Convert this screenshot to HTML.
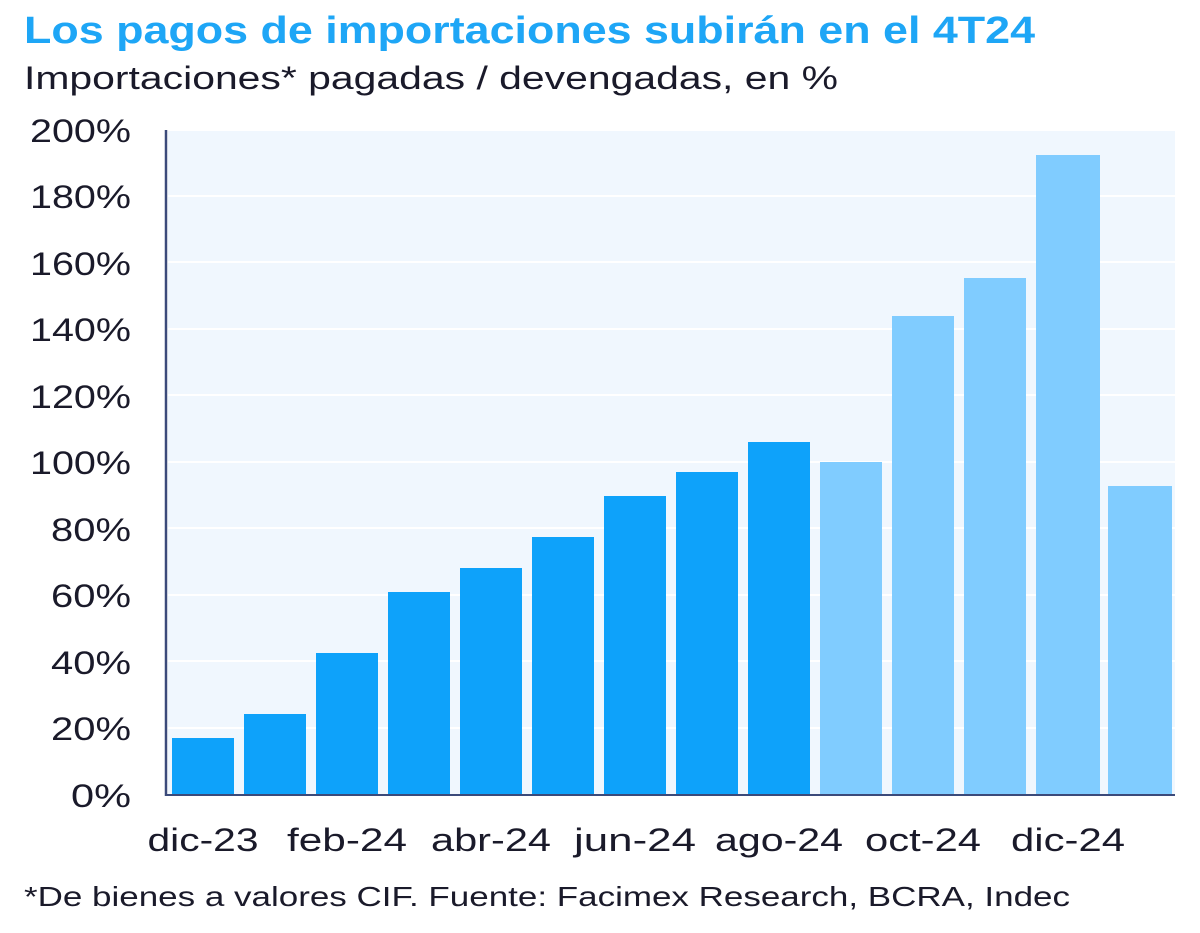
<!DOCTYPE html>
<html><head><meta charset="utf-8"><style>
body{margin:0;background:#fff;width:1200px;height:928px;overflow:hidden;font-family:"Liberation Sans",sans-serif}
</style></head><body>
<svg width="1200" height="928" xmlns="http://www.w3.org/2000/svg" font-family="Liberation Sans, sans-serif">
<text x="24" y="43" font-size="38" font-weight="bold" fill="#1ea6f6" textLength="1011" lengthAdjust="spacingAndGlyphs">Los pagos de importaciones subirán en el 4T24</text>
<text x="24" y="89" font-size="32" fill="#1a1a2a" textLength="814" lengthAdjust="spacingAndGlyphs">Importaciones* pagadas / devengadas, en %</text>
<rect x="168" y="131" width="1007" height="664" fill="#f0f7fe"/>
<g stroke="#fff" stroke-width="2">
<line x1="168" y1="196" x2="1175" y2="196"/><line x1="168" y1="262" x2="1175" y2="262"/><line x1="168" y1="329" x2="1175" y2="329"/><line x1="168" y1="395" x2="1175" y2="395"/><line x1="168" y1="462" x2="1175" y2="462"/><line x1="168" y1="528" x2="1175" y2="528"/><line x1="168" y1="595" x2="1175" y2="595"/><line x1="168" y1="661" x2="1175" y2="661"/><line x1="168" y1="728" x2="1175" y2="728"/>
</g>
<g fill="#0ea2fa">
<rect x="172" y="738" width="62" height="57"/><rect x="244" y="714" width="62" height="81"/><rect x="316" y="653" width="62" height="142"/><rect x="388" y="592" width="62" height="203"/><rect x="460" y="568" width="62" height="227"/><rect x="532" y="537" width="62" height="258"/><rect x="604" y="496" width="62" height="299"/><rect x="676" y="472" width="62" height="323"/><rect x="748" y="442" width="62" height="353"/>
</g>
<g fill="#80ccff">
<rect x="820" y="462" width="62" height="333"/><rect x="892" y="316" width="62" height="479"/><rect x="964" y="278" width="62" height="517"/><rect x="1036" y="155" width="64" height="640"/><rect x="1108" y="486" width="64" height="309"/>
</g>
<line x1="166" y1="130" x2="166" y2="796" stroke="#3b4a7a" stroke-width="2.5"/>
<line x1="166" y1="795" x2="1175" y2="795" stroke="#3b4a7a" stroke-width="2"/>
<g font-size="32" fill="#1a1a2a" text-anchor="end">
<text x="131" y="142" textLength="101" lengthAdjust="spacingAndGlyphs">200%</text><text x="131" y="208" textLength="101" lengthAdjust="spacingAndGlyphs">180%</text><text x="131" y="275" textLength="101" lengthAdjust="spacingAndGlyphs">160%</text><text x="131" y="341" textLength="101" lengthAdjust="spacingAndGlyphs">140%</text><text x="131" y="408" textLength="101" lengthAdjust="spacingAndGlyphs">120%</text><text x="131" y="474" textLength="101" lengthAdjust="spacingAndGlyphs">100%</text><text x="131" y="541" textLength="80" lengthAdjust="spacingAndGlyphs">80%</text><text x="131" y="607" textLength="80" lengthAdjust="spacingAndGlyphs">60%</text><text x="131" y="674" textLength="80" lengthAdjust="spacingAndGlyphs">40%</text><text x="131" y="740" textLength="80" lengthAdjust="spacingAndGlyphs">20%</text><text x="131" y="807" textLength="60" lengthAdjust="spacingAndGlyphs">0%</text>
</g>
<g font-size="32" fill="#1a1a2a" text-anchor="middle">
<text x="203" y="851" textLength="111" lengthAdjust="spacingAndGlyphs">dic-23</text><text x="347" y="851" textLength="120" lengthAdjust="spacingAndGlyphs">feb-24</text><text x="491" y="851" textLength="120" lengthAdjust="spacingAndGlyphs">abr-24</text><text x="635" y="851" textLength="122" lengthAdjust="spacingAndGlyphs">jun-24</text><text x="779" y="851" textLength="128" lengthAdjust="spacingAndGlyphs">ago-24</text><text x="923" y="851" textLength="116" lengthAdjust="spacingAndGlyphs">oct-24</text><text x="1068" y="851" textLength="114" lengthAdjust="spacingAndGlyphs">dic-24</text>
</g>
<text x="24" y="906" font-size="28" fill="#1a1a2a" textLength="1046" lengthAdjust="spacingAndGlyphs">*De bienes a valores CIF. Fuente: Facimex Research, BCRA, Indec</text>
</svg>
</body></html>
